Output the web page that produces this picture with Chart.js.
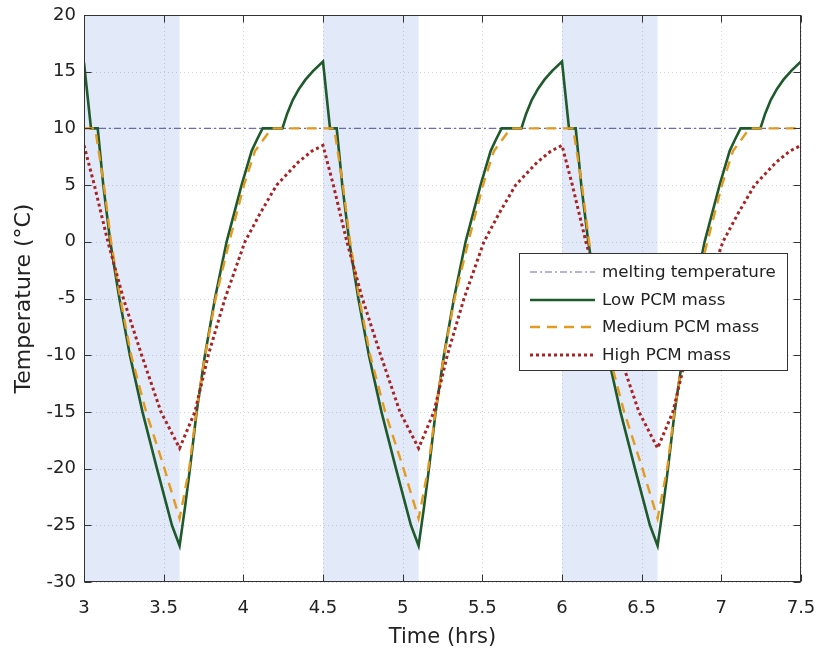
<!DOCTYPE html>
<html><head><meta charset="utf-8">
<script src="https://cdn.jsdelivr.net/npm/chart.js@4/dist/chart.umd.min.js"></script>
<style>html,body{margin:0;padding:0;background:#fff}#wrap{width:818px;height:656px}</style>
</head><body><div id="wrap"><canvas id="c" width="818" height="656"></canvas></div>
<script>
// ---- data ----
const xTicks = [3, 3.5, 4, 4.5, 5, 5.5, 6, 6.5, 7, 7.5];
const yTicks = [-30, -25, -20, -15, -10, -5, 0, 5, 10, 15, 20];

const shadeStart = [3.0, 4.5, 6.0];
const shadeEnd   = [3.6, 5.1, 6.6];

const meltTime = [3, 7.5];
const meltTemp = [10, 10];

const lowTime = [
  3.000, 3.044, 3.086, 3.121, 3.165, 3.222, 3.288, 3.367, 3.458, 3.552, 3.600, 3.634, 3.665, 3.707, 3.759, 3.822, 3.895, 3.989, 4.052, 4.085, 4.121, 4.245, 4.275, 4.310, 4.350, 4.390, 4.440,
  4.500, 4.544, 4.586, 4.621, 4.665, 4.722, 4.788, 4.867, 4.958, 5.052, 5.100, 5.134, 5.165, 5.207, 5.259, 5.322, 5.395, 5.489, 5.552, 5.585, 5.621, 5.745, 5.775, 5.810, 5.850, 5.890, 5.940,
  6.000, 6.044, 6.086, 6.121, 6.165, 6.222, 6.288, 6.367, 6.458, 6.552, 6.600, 6.634, 6.665, 6.707, 6.759, 6.822, 6.895, 6.989, 7.052, 7.085, 7.121, 7.245, 7.275, 7.310, 7.350, 7.390, 7.440,
  7.500];
const lowTemp = [
  15.8, 10, 10, 5, 0, -5, -10, -15, -20, -25, -26.8, -23.4, -20, -15, -10, -5, 0, 5, 8, 9, 10, 10, 11.3, 12.5, 13.5, 14.3, 15.1,
  15.9, 10, 10, 5, 0, -5, -10, -15, -20, -25, -26.8, -23.4, -20, -15, -10, -5, 0, 5, 8, 9, 10, 10, 11.3, 12.5, 13.5, 14.3, 15.1,
  15.9, 10, 10, 5, 0, -5, -10, -15, -20, -25, -26.8, -23.4, -20, -15, -10, -5, 0, 5, 8, 9, 10, 10, 11.3, 12.5, 13.5, 14.3, 15.1,
  15.9];

const medTime = [
  3.000, 3.070, 3.125, 3.170, 3.228, 3.296, 3.390, 3.505, 3.600, 3.660, 3.705, 3.760, 3.826, 3.912, 4.004, 4.073, 4.177,
  4.500, 4.570, 4.625, 4.670, 4.728, 4.796, 4.890, 5.005, 5.100, 5.160, 5.205, 5.260, 5.326, 5.412, 5.504, 5.573, 5.677,
  6.000, 6.070, 6.125, 6.170, 6.228, 6.296, 6.390, 6.505, 6.600, 6.660, 6.705, 6.760, 6.826, 6.912, 7.004, 7.073, 7.177,
  7.500];
const medTemp = [
  10, 10, 5, 0, -5, -10, -15, -20, -24.4, -20, -15, -10, -5, 0, 5, 8, 10,
  10, 10, 5, 0, -5, -10, -15, -20, -24.4, -20, -15, -10, -5, 0, 5, 8, 10,
  10, 10, 5, 0, -5, -10, -15, -20, -24.4, -20, -15, -10, -5, 0, 5, 8, 10,
  10];

const highTime = [
  3.000, 3.065, 3.150, 3.247, 3.362, 3.483, 3.600, 3.696, 3.780, 3.885, 4.010, 4.105, 4.209, 4.343, 4.430,
  4.500, 4.565, 4.650, 4.747, 4.862, 4.983, 5.100, 5.196, 5.280, 5.385, 5.510, 5.605, 5.709, 5.843, 5.930,
  6.000, 6.065, 6.150, 6.247, 6.362, 6.483, 6.600, 6.696, 6.780, 6.885, 7.010, 7.105, 7.209, 7.343, 7.430,
  7.500];
const highTemp = [
  8.5, 5, 0, -5, -10, -15, -18.2, -15, -10, -5, 0, 2.5, 5, 7, 8,
  8.5, 5, 0, -5, -10, -15, -18.2, -15, -10, -5, 0, 2.5, 5, 7, 8,
  8.5, 5, 0, -5, -10, -15, -18.2, -15, -10, -5, 0, 2.5, 5, 7, 8,
  8.5];

const seriesLabels = ['melting temperature', 'Low PCM mass', 'Medium PCM mass', 'High PCM mass'];

function pts(xs, ys) { return xs.map((x, i) => ({x: x, y: ys[i]})); }

const FONT = '"DejaVu Sans", Verdana, sans-serif';
const TXT = '#222';

const shadePlugin = {
  id: 'shade',
  beforeDatasetsDraw(chart) {
    const {ctx, chartArea: a, scales: {x, y}} = chart;
    ctx.save();
    ctx.fillStyle = 'rgba(200,212,242,0.52)';
    for (let i = 0; i < shadeStart.length; i++) {
      const x0 = x.getPixelForValue(shadeStart[i]);
      const x1 = x.getPixelForValue(shadeEnd[i]);
      ctx.fillRect(x0, a.top, x1 - x0, a.bottom - a.top);
    }
    ctx.strokeStyle = 'rgba(120,120,150,0.32)';
    ctx.lineWidth = 1;
    ctx.setLineDash([1, 3]);
    x.ticks.forEach(t => {
      const px = Math.round(x.getPixelForValue(t.value)) + 0.5;
      ctx.beginPath(); ctx.moveTo(px, a.top); ctx.lineTo(px, a.bottom); ctx.stroke();
    });
    y.ticks.forEach(t => {
      const py = Math.round(y.getPixelForValue(t.value)) + 0.5;
      ctx.beginPath(); ctx.moveTo(a.left, py); ctx.lineTo(a.right, py); ctx.stroke();
    });
    ctx.restore();
  },
  afterDatasetsDraw(chart) {
    const {ctx, chartArea: a, scales: {x, y}} = chart;
    ctx.save();
    ctx.strokeStyle = '#333';
    ctx.lineWidth = 1;
    ctx.setLineDash([]);
    const L = Math.round(a.left) + 0.5, R = Math.round(a.right) - 0.5;
    const T = Math.round(a.top) + 0.5, B = Math.round(a.bottom) - 0.5;
    ctx.strokeRect(L, T, R - L, B - T);
    const tl = 7;
    x.ticks.forEach(t => {
      const px = Math.round(x.getPixelForValue(t.value)) + 0.5;
      ctx.beginPath(); ctx.moveTo(px, B); ctx.lineTo(px, B - tl);
      ctx.moveTo(px, T); ctx.lineTo(px, T + tl); ctx.stroke();
    });
    y.ticks.forEach(t => {
      const py = Math.round(y.getPixelForValue(t.value)) + 0.5;
      ctx.beginPath(); ctx.moveTo(L, py); ctx.lineTo(L + tl, py);
      ctx.moveTo(R, py); ctx.lineTo(R - tl, py); ctx.stroke();
    });
    ctx.restore();
  },
  afterDraw(chart) {
    const {ctx} = chart;
    const ds = chart.data.datasets;
    const bx = 519.5, by = 253.5, bw = 268, bh = 117;
    ctx.save();
    ctx.fillStyle = '#fff';
    ctx.fillRect(bx, by, bw, bh);
    ctx.strokeStyle = '#333';
    ctx.lineWidth = 1;
    ctx.strokeRect(bx, by, bw, bh);
    ctx.font = '16.7px ' + FONT;
    ctx.textBaseline = 'middle';
    ctx.textAlign = 'left';
    const rows = [272, 300, 327, 355];
    ds.forEach((d, i) => {
      const yy = rows[i];
      ctx.strokeStyle = d.borderColor;
      ctx.lineWidth = d.borderWidth;
      ctx.setLineDash(d.borderDash || []);
      ctx.lineCap = 'butt';
      ctx.beginPath(); ctx.moveTo(530, yy); ctx.lineTo(595, yy); ctx.stroke();
      ctx.setLineDash([]);
      ctx.fillStyle = TXT;
      ctx.fillText(d.label, 602, yy + 1);
    });
    ctx.restore();
  }
};

new Chart(document.getElementById('c'), {
  type: 'line',
  data: {
    datasets: [
      { label: seriesLabels[0], data: pts(meltTime, meltTemp), borderColor: '#6a6aae', borderWidth: 1.2, borderDash: [7, 3, 2, 3], pointRadius: 0, tension: 0, order: 4 },
      { label: seriesLabels[1], data: pts(lowTime, lowTemp), borderColor: '#1f5a2c', borderWidth: 2.6, borderDash: [], pointRadius: 0, tension: 0, order: 3 },
      { label: seriesLabels[2], data: pts(medTime, medTemp), borderColor: '#e39a1e', borderWidth: 2.4, borderDash: [10, 7], pointRadius: 0, tension: 0, order: 2 },
      { label: seriesLabels[3], data: pts(highTime, highTemp), borderColor: '#a82424', borderWidth: 3, borderDash: [3, 3], pointRadius: 0, tension: 0, order: 1 }
    ]
  },
  options: {
    responsive: false,
    animation: false,
    devicePixelRatio: 1,
    layout: { padding: { left: 0, right: 17, top: 15, bottom: 0 } },
    plugins: { legend: { display: false }, tooltip: { enabled: false } },
    scales: {
      x: {
        type: 'linear', min: 3, max: 7.5,
        afterBuildTicks: s => { s.ticks = xTicks.map(v => ({value: v})); },
        afterFit: s => { s.height = 74; s.paddingLeft = 0; s.paddingRight = 0; },
        grid: { display: false, drawTicks: false },
        border: { display: false },
        ticks: { color: TXT, font: { family: FONT, size: 18 }, padding: 16, maxRotation: 0, autoSkip: false, callback: v => String(v) },
        title: { display: true, text: 'Time (hrs)', color: TXT, font: { family: FONT, size: 21 }, padding: { top: 0, bottom: 6 } }
      },
      y: {
        type: 'linear', min: -30, max: 20,
        afterBuildTicks: s => { s.ticks = yTicks.map(v => ({value: v})); },
        afterFit: s => { s.width = 84; s.paddingTop = 0; s.paddingBottom = 0; },
        grid: { display: false, drawTicks: false },
        border: { display: false },
        ticks: { color: TXT, font: { family: FONT, size: 18 }, padding: 8, autoSkip: false, callback: v => String(v) },
        title: { display: true, text: 'Temperature (°C)', color: TXT, font: { family: FONT, size: 22 }, padding: { top: 11, bottom: 0 } }
      }
    }
  },
  plugins: [shadePlugin]
});
</script>
</body></html>
